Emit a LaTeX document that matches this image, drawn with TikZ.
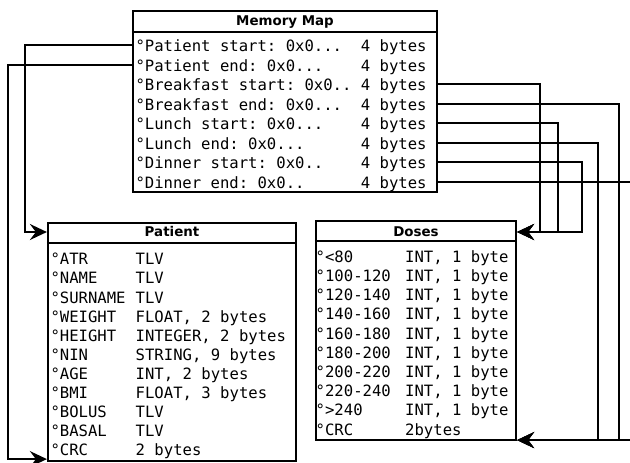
\documentclass[tikz,border=0pt]{standalone}
\usepackage{fontspec}
\setmainfont{DejaVu Sans}
\setsansfont{DejaVu Sans}
\setmonofont{DejaVu Sans Mono}
\usetikzlibrary{arrows.meta}
\begin{document}
\begin{tikzpicture}[x=1pt,y=-1pt,
  box/.style={draw, line width=2.2pt, inner sep=0pt},
  slot/.style={inner sep=0pt, minimum height=19pt, minimum width=304pt},
  ttl/.style={font=\sffamily\bfseries\fontsize{13.4}{15}\selectfont, inner sep=0pt},
  cell/.style={font=\ttfamily\fontsize{15.6}{18}\selectfont, inner sep=0pt, anchor=base west},
  wire/.style={line width=2.2pt},
  conn/.style={line width=2.2pt, -{Stealth[length=17pt,width=16pt,inset=6pt]}}
]
\fill[white] (0,0) rectangle (630,463);
\useasboundingbox (0,0) rectangle (630,463);
\begin{scope}
\clip (0,0) rectangle (630,463);

% ---------- Memory Map ----------
\node[box, minimum width=304pt, minimum height=181pt] (mm) at (285,101.5) {};
\draw[wire] ([yshift=-22pt]mm.north west) -- ([yshift=-22pt]mm.north east);
\node[ttl] (mmt) at (285,22) {Memory Map};
\node[slot] (ms0) at (285,45) {};
\node[slot] (ms1) at (285,65) {};
\node[slot] (ms2) at (285,84) {};
\node[slot] (ms3) at (285,104) {};
\node[slot] (ms4) at (285,123) {};
\node[slot] (ms5) at (285,143) {};
\node[slot] (ms6) at (285,162) {};
\node[slot] (ms7) at (285,182) {};
\node[cell] (ma0) at (135.3,51.5)  {°Patient start: 0x0...};
\node[cell] (ma1) at (135.3,71.0)  {°Patient end: 0x0...};
\node[cell] (ma2) at (135.3,90.5)  {°Breakfast start: 0x0..};
\node[cell] (ma3) at (135.3,110.0) {°Breakfast end: 0x0...};
\node[cell] (ma4) at (135.3,129.5) {°Lunch start: 0x0...};
\node[cell] (ma5) at (135.3,149.0) {°Lunch end: 0x0...};
\node[cell] (ma6) at (135.3,168.5) {°Dinner start: 0x0..};
\node[cell] (ma7) at (135.3,188.0) {°Dinner end: 0x0..};
\foreach \i in {0,...,7}{
  \node[cell] (mb\i) at (360.7,51.5+19.5*\i) {4 bytes};
}

% ---------- Patient ----------
\node[box, minimum width=248pt, minimum height=238pt] (pat) at (172,342) {};
\draw[wire] ([yshift=-21pt]pat.north west) -- ([yshift=-21pt]pat.north east);
\node[ttl] (patt) at (172,232) {Patient};
\foreach [count=\i from 0] \a/\b in {ATR/TLV, NAME/TLV, SURNAME/TLV,
  WEIGHT/{FLOAT, 2 bytes}, HEIGHT/{INTEGER, 2 bytes}, NIN/{STRING, 9 bytes},
  AGE/{INT, 2 bytes}, BMI/{FLOAT, 3 bytes}, BOLUS/TLV, BASAL/TLV, CRC/2 bytes}{
  \node[cell] (pa\i) at (50.3,264.8+19.1*\i) {°\a};
  \node[cell] (pb\i) at (135.5,264.8+19.1*\i) {\b};
}

% ---------- Doses ----------
\node[box, minimum width=200pt, minimum height=219pt] (dos) at (416,330.5) {};
\draw[wire] ([yshift=-21pt]dos.north west) -- ([yshift=-21pt]dos.north east);
\node[ttl] (dost) at (416,232) {Doses};
\foreach [count=\i from 0] \a/\b in {<80/{INT, 1 byte}, 100-120/{INT, 1 byte},
  120-140/{INT, 1 byte}, 140-160/{INT, 1 byte}, 160-180/{INT, 1 byte},
  180-200/{INT, 1 byte}, 200-220/{INT, 1 byte}, 220-240/{INT, 1 byte},
  >240/{INT, 1 byte}, CRC/2bytes}{
  \node[cell] (da\i) at (315.5,262.2+19.2*\i) {°\a};
  \node[cell] (db\i) at (405,262.2+19.2*\i) {\b};
}

% ---------- connectors ----------
\draw[conn] (ms0.west) -- ++(-108,0) |- (patt -| pat.west);
\draw[conn] (ms1.west) -- ++(-125,0) |- ([yshift=3pt]pat.south west);
\draw[conn] (ms2.east) -- ++(103,0) |- (dost -| dos.east);
\draw[conn] (ms4.east) -- ++(121,0) |- (dost -| dos.east);
\draw[conn] (ms6.east) -- ++(145,0) |- (dost -| dos.east);
\draw[conn] (ms3.east) -- ++(182,0) |- ([yshift=1pt]dos.south east);
\draw[conn] (ms5.east) -- ++(161,0) |- ([yshift=1pt]dos.south east);
\draw[conn] (ms7.east) -- ++(198,0) |- ([yshift=1pt]dos.south east);
\end{scope}
\end{tikzpicture}
\end{document}
